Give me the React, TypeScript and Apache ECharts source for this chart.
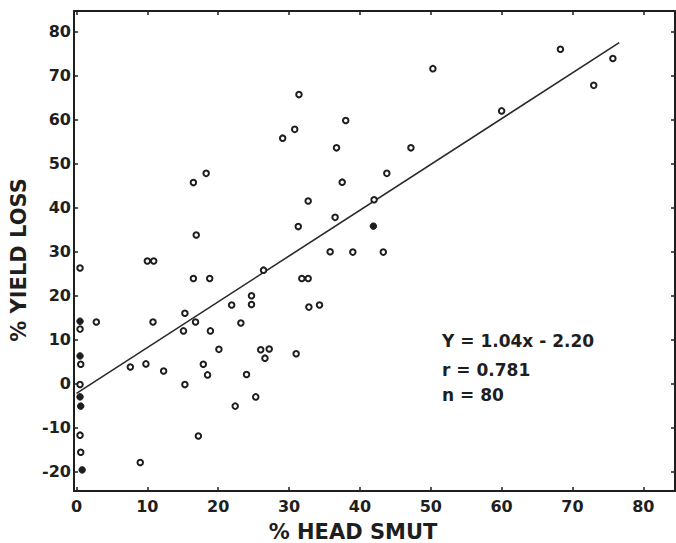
import React, { useEffect, useRef } from "react";
import * as echarts from "echarts";

// % head smut (x) and % yield loss (y), open markers
const openX = [0.5, 0.5, 0.6, 0.5, 0.5, 0.6, 2.8, 7.6, 9.0, 9.8, 10.0, 10.9, 10.8, 12.3, 15.1, 15.3, 15.3, 16.5, 16.5, 16.8, 16.9, 17.2, 17.9, 18.3, 18.5, 18.8, 18.9, 20.1, 21.9, 22.4, 23.2, 24.0, 24.7, 24.7, 25.3, 26.0, 26.4, 26.6, 27.2, 29.1, 30.8, 31.0, 31.3, 31.4, 31.8, 32.7, 32.7, 32.8, 34.3, 35.8, 36.5, 36.7, 37.5, 38.0, 39.0, 42.0, 43.3, 43.8, 47.2, 50.3, 60.0, 68.3, 73.0, 75.7];
const openY = [26.3, 12.4, 4.4, -0.2, -11.7, -15.6, 14.0, 3.8, -17.9, 4.5, 27.9, 27.9, 14.0, 2.9, 12.0, 16.0, -0.2, 45.7, 23.9, 14.0, 33.8, -11.9, 4.4, 47.8, 2.0, 23.9, 12.0, 7.8, 17.9, -5.1, 13.8, 2.1, 20.0, 18.0, -3.0, 7.7, 25.8, 5.8, 7.9, 55.8, 57.8, 6.8, 35.7, 65.7, 23.9, 23.9, 41.5, 17.4, 17.9, 30.0, 37.8, 53.6, 45.8, 59.8, 29.9, 41.8, 29.9, 47.8, 53.6, 71.6, 62.0, 76.0, 67.8, 73.9];
// filled-looking markers
const filledX = [0.5, 0.5, 0.5, 0.6, 0.8, 41.9];
const filledY = [14.2, 6.3, -3.0, -5.1, -19.6, 35.8];
// regression line endpoints: Y = 1.04x - 2.20
const fitX = [0, 76.6];
const fitY = [-2.2, 77.5];

const xTicks = [0, 10, 20, 30, 40, 50, 60, 70, 80];
const yTicks = [-20, -10, 0, 10, 20, 30, 40, 50, 60, 70, 80];

const xName = "% HEAD SMUT";
const yName = "% YIELD LOSS";
const statLines = ["Y = 1.04x - 2.20", "r = 0.781", "n = 80"];

const INK = "#1e1e1e";
const FONT = "DejaVu Sans";

export default function App() {
  const ref = useRef<HTMLDivElement>(null);
  useEffect(() => {
    if (!ref.current) return;
    const chart = echarts.init(ref.current, undefined, { renderer: "svg" });
    const xMin = -0.35, xMax = 84.47, yMin = -24.39, yMax = 84.7;
    const axisLine = { show: true, onZero: false, lineStyle: { color: INK, width: 2 } };
    const tickStyle = { lineStyle: { color: INK, width: 1.5 } };
    const zip = (a: number[], b: number[]) => a.map((v, i) => [v, b[i]]);
    const labelStyle = { color: INK, fontSize: 16, fontFamily: FONT, fontWeight: 600 };
    chart.setOption({
      animation: false,
      backgroundColor: "#ffffff",
      grid: { left: 74, right: 1, top: 11, bottom: 52 },
      xAxis: [
        {
          type: "value", position: "bottom", min: xMin, max: xMax,
          axisLine,
          axisTick: { show: true, inside: true, length: 4, customValues: xTicks, ...tickStyle },
          axisLabel: { customValues: xTicks, ...labelStyle, margin: 7 },
          splitLine: { show: false },
        },
        {
          type: "value", position: "top", min: xMin, max: xMax,
          axisLine,
          axisTick: { show: true, inside: true, length: 4, customValues: xTicks, ...tickStyle },
          axisLabel: { show: false },
          splitLine: { show: false },
        },
      ],
      yAxis: [
        {
          type: "value", position: "left", min: yMin, max: yMax,
          axisLine,
          axisTick: { show: true, inside: true, length: 4, customValues: yTicks, ...tickStyle },
          axisLabel: { customValues: yTicks, ...labelStyle, margin: 3 },
          splitLine: { show: false },
        },
        {
          type: "value", position: "right", min: yMin, max: yMax,
          axisLine,
          axisTick: { show: true, inside: true, length: 4, customValues: yTicks, ...tickStyle },
          axisLabel: { show: false },
          splitLine: { show: false },
        },
      ],
      series: [
        {
          type: "line", data: zip(fitX, fitY), symbol: "none",
          lineStyle: { color: "#2a2a2a", width: 1.6 }, z: 2,
        },
        {
          type: "scatter", data: zip(openX, openY), symbol: "circle", symbolSize: 5.5,
          itemStyle: { color: "#ffffff", borderColor: INK, borderWidth: 2, opacity: 1 }, z: 3,
        },
        {
          type: "scatter", data: zip(filledX, filledY), symbol: "circle", symbolSize: 6.5,
          itemStyle: { color: INK, borderColor: INK, borderWidth: 1, opacity: 1 }, z: 3,
        },
      ],
      graphic: [
        {
          type: "text", x: 19, y: 260, rotation: Math.PI / 2,
          style: { text: yName, fill: INK, font: `bold 21px "${FONT}"`, align: "center", verticalAlign: "middle" },
        },
        {
          type: "text", x: 353, y: 532,
          style: { text: xName, fill: INK, font: `bold 21px "${FONT}"`, align: "center", verticalAlign: "middle" },
        },
        ...statLines.map((t, i) => ({
          type: "text", x: 442, y: [341, 370, 395][i],
          style: { text: t, fill: INK, font: `600 17px "${FONT}"`, align: "left", verticalAlign: "middle" },
        })),
      ],
    });
    return () => chart.dispose();
  }, []);
  return (
    <div
      ref={ref}
      style={{ position: "fixed", left: 0, top: 0, width: 676, height: 543, background: "#fff" }}
    />
  );
}
